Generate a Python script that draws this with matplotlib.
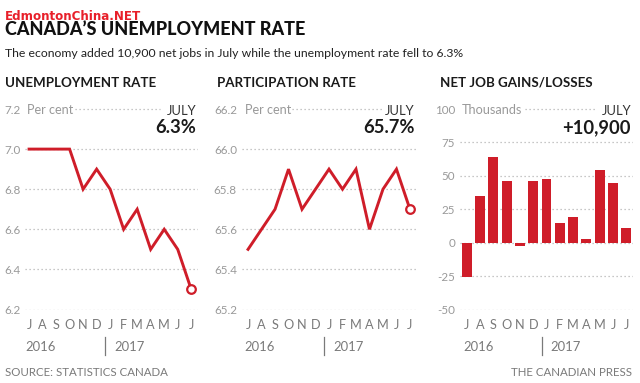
import matplotlib
matplotlib.use("Agg")
import matplotlib.pyplot as plt
import matplotlib.transforms as mtransforms

W, H = 640, 383
months = ["J", "A", "S", "O", "N", "D", "J", "F", "M", "A", "M", "J", "J"]
years = ["2016", "2017"]
unemp = [7.0, 7.0, 7.0, 7.0, 6.8, 6.9, 6.8, 6.6, 6.7, 6.5, 6.6, 6.5, 6.3]
partic = [65.5, 65.6, 65.7, 65.9, 65.7, 65.8, 65.9, 65.8, 65.9, 65.6, 65.8, 65.9, 65.7]
jobs = [-26, 35, 64, 46.5, -2.5, 46, 48, 15, 19.5, 3, 54.5, 45, 11]

unemp_ticks = [6.2, 6.4, 6.6, 6.8, 7.0, 7.2]
partic_ticks = [65.2, 65.4, 65.6, 65.8, 66.0, 66.2]
jobs_ticks = [-50, -25, 0, 25, 50, 75, 100]

RED = "#cf1d29"
GRAY = "#999999"
MGRAY = "#7a7a7a"
DARK = "#1a1a1a"
FONT = "Lato"

plt.rcParams["font.family"] = [FONT, "DejaVu Sans"]

fig = plt.figure(figsize=(W / 100, H / 100), dpi=100)
fx = lambda p: p / W
fy = lambda p: 1 - p / H

TOP, BOT = 109, 309.5
panels = [
    dict(l=25, r=198, xmin=-0.3, ylim=(6.2, 7.2), ticks=unemp_ticks, fmt="{:.1f}",
         title="UNEMPLOYMENT RATE", unit="Per cent", val="6.3%", ux=27, d0=75, d1=160, tx=5),
    dict(l=241.7, r=416.7, xmin=-0.47, ylim=(65.2, 66.2), ticks=partic_ticks, fmt="{:.1f}",
         title="PARTICIPATION RATE", unit="Per cent", val="65.7%", ux=245, d0=292, d1=383, tx=217),
    dict(l=460, r=633, xmin=-0.5, ylim=(-50, 100), ticks=jobs_ticks, fmt="{:d}",
         title="NET JOB GAINS/LOSSES", unit="Thousands", val="+10,900", ux=462, d0=525, d1=597, tx=440),
]

axes = []
for p in panels:
    ax = fig.add_axes([fx(p["l"]), fy(BOT), (p["r"] - p["l"]) / W, (BOT - TOP) / H])
    ax.set_xlim(p["xmin"], 12.5)
    ax.set_ylim(*p["ylim"])
    for s in ax.spines.values():
        s.set_visible(False)
    ax.set_yticks(p["ticks"])
    ax.set_yticklabels([p["fmt"].format(t) for t in p["ticks"]], color=GRAY, fontsize=8.4)
    ax.set_xticks(range(len(months)))
    ax.set_xticklabels(months, color=MGRAY, fontsize=9.2)
    ax.tick_params(axis="y", length=0, pad=3.4)
    ax.tick_params(axis="x", length=0, pad=6.5)
    ax.patch.set_alpha(0)
    for t in p["ticks"][:-1]:
        ax.axhline(t, color="#b5b5b5", lw=0.9, ls=(0, (1, 2.2)), zorder=0)
    a0 = (p["d0"] - p["l"]) / (p["r"] - p["l"])
    a1 = (p["d1"] - p["l"]) / (p["r"] - p["l"])
    ax.axhline(p["ticks"][-1], xmin=a0, xmax=a1, color="#b5b5b5", lw=0.9, ls=(0, (1, 2.2)),
               zorder=0, clip_on=False)
    # header texts
    fig.text(fx(p["tx"]), fy(86.7), p["title"], fontsize=9.6, fontweight="bold", color=DARK,
             va="baseline")
    fig.text(fx(p["ux"]), fy(114.5), p["unit"], fontsize=9.1, color=GRAY, va="baseline")
    fig.text(fx(p["r"] - 2), fy(115), "JULY", fontsize=9.4, color="#333333", va="baseline",
             ha="right")
    fig.text(fx(p["r"] - 2), fy(133.3), p["val"], fontsize=13.2, fontweight="bold", color=DARK,
             va="baseline", ha="right")
    # years
    tr = mtransforms.blended_transform_factory(ax.transData, fig.transFigure)
    ax.text(-0.25, fy(351), years[0], transform=tr, fontsize=9.4, color=MGRAY, va="baseline")
    ax.text(6.3, fy(351), years[1], transform=tr, fontsize=9.4, color=MGRAY, va="baseline")
    ax.plot([5.65, 5.65], [fy(337), fy(355)], transform=tr, color=MGRAY, lw=0.9, clip_on=False)
    axes.append(ax)

ax1, ax2, ax3 = axes
x = list(range(len(months)))
for ax, vals in [(ax1, unemp), (ax2, partic)]:
    ax.plot(x, vals, color=RED, lw=2.1, clip_on=False, solid_joinstyle="miter", zorder=3)
    ax.plot(x[-1], vals[-1], "o", ms=6.2, mfc="white", mec=RED, mew=1.6, clip_on=False, zorder=4)
ax3.bar(x, jobs, width=0.75, color=RED, zorder=3)

fig.text(fx(5), fy(35), "CANADA\u2019S UNEMPLOYMENT RATE", fontsize=13.0, fontweight="black",
         color="#111111", va="baseline")
fig.text(fx(5), fy(56.7), "The economy added 10,900 net jobs in July while the unemployment rate fell to 6.3%",
         fontsize=8.8, color="#222222", va="baseline")
fig.text(fx(5), fy(19.5), "EdmontonChina.NET", fontsize=8.6, color="#e8202a", va="baseline",
         fontweight="bold", family=["DejaVu Sans"], zorder=10)
fig.text(fx(5), fy(376), "SOURCE: STATISTICS CANADA", fontsize=8.3, color=MGRAY, va="baseline")
fig.text(fx(632), fy(376), "THE CANADIAN PRESS", fontsize=8.3, color=MGRAY, va="baseline", ha="right")

fig.savefig("out.png", dpi=100)
